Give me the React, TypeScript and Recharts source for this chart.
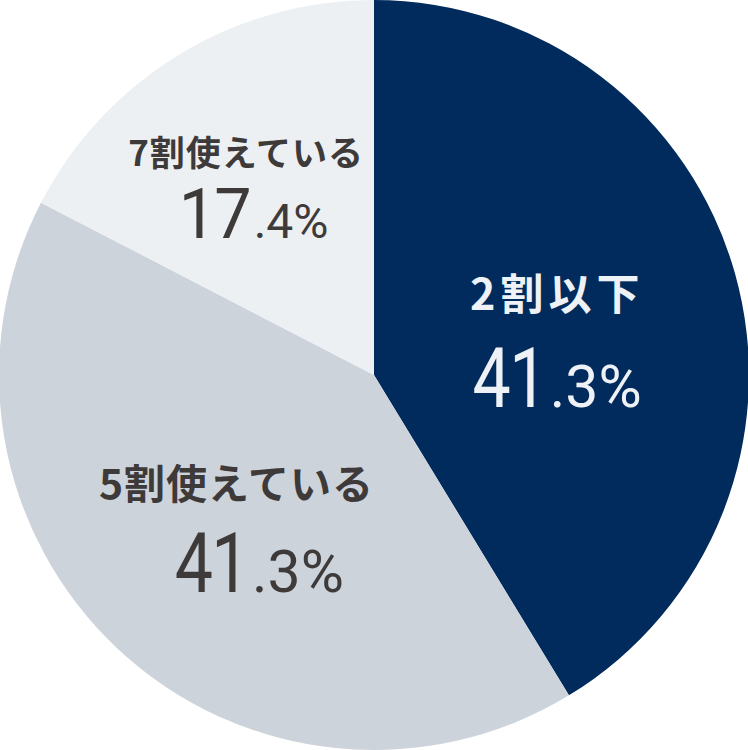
import { PieChart, Pie, Cell } from 'recharts'

const categories = ['2割以下', '5割使えている', '7割使えている']
const shares = [41.3, 41.3, 17.4]
const colors = ['#002b5c', '#cdd3da', '#ecf0f3']
const textColors = ['#eef1f5', '#3e3a39', '#3e3a39']

// label tweaks per slice: offsets from the radial anchor
const titleStyle = [
  { dx: -7, dy: -12, size: 43, ls: 5 },
  { dx: -5, dy: -19, size: 41, ls: 1 },
  { dx: -27, dy: -42, size: 35, ls: 1 },
]
const valueStyle = [
  { dx: -14, dy: 85, big: 83, small: 59, sx: 0.82 },
  { dx: 9, dy: 74, big: 83, small: 59, sx: 0.82 },
  { dx: -21, dy: 30, big: 70, small: 48, sx: 0.95 },
]

const data = categories.map((name, i) => ({ name, value: shares[i] }))

const RAD = Math.PI / 180

function SliceLabel(props: any) {
  const { cx, cy, midAngle, outerRadius, index } = props
  const r = outerRadius * 0.52
  const x = cx + r * Math.cos(-midAngle * RAD)
  const y = cy + r * Math.sin(-midAngle * RAD)
  const t = titleStyle[index]
  const v = valueStyle[index]
  const [whole, frac] = shares[index].toFixed(1).split('.')
  const px = x + v.dx
  const py = y + v.dy
  return (
    <g fill={textColors[index]}>
      <text
        x={x + t.dx + t.ls / 2}
        y={y + t.dy}
        textAnchor="middle"
        fontFamily="'Noto Sans CJK JP', sans-serif"
        fontWeight={700}
        fontSize={t.size}
        letterSpacing={t.ls}
      >
        {categories[index]}
      </text>
      <text
        x={0}
        y={0}
        transform={`translate(${px - 2},${py}) scale(${v.sx},1)`}
        textAnchor="end"
        fontFamily="Roboto, sans-serif"
        fontWeight={400}
        fontSize={v.big}
        letterSpacing={-2}
      >
        {whole}
      </text>
      <text
        x={px + 2}
        y={py}
        textAnchor="start"
        fontFamily="Roboto, sans-serif"
        fontWeight={400}
        fontSize={v.small}
      >
        .{frac}%
      </text>
    </g>
  )
}

export default function App() {
  return (
    <div style={{ position: 'fixed', top: 0, left: 0, width: 748, height: 750, background: '#fff' }}>
      <PieChart width={748} height={750} margin={{ top: 0, right: 0, bottom: 0, left: 0 }}>
        <Pie
          data={data}
          dataKey="value"
          nameKey="name"
          cx={374}
          cy={375}
          outerRadius={375}
          startAngle={90}
          endAngle={-270}
          stroke="none"
          labelLine={false}
          label={SliceLabel}
          isAnimationActive={false}
        >
          {data.map((d, i) => (
            <Cell key={d.name} fill={colors[i]} />
          ))}
        </Pie>
      </PieChart>
    </div>
  )
}
